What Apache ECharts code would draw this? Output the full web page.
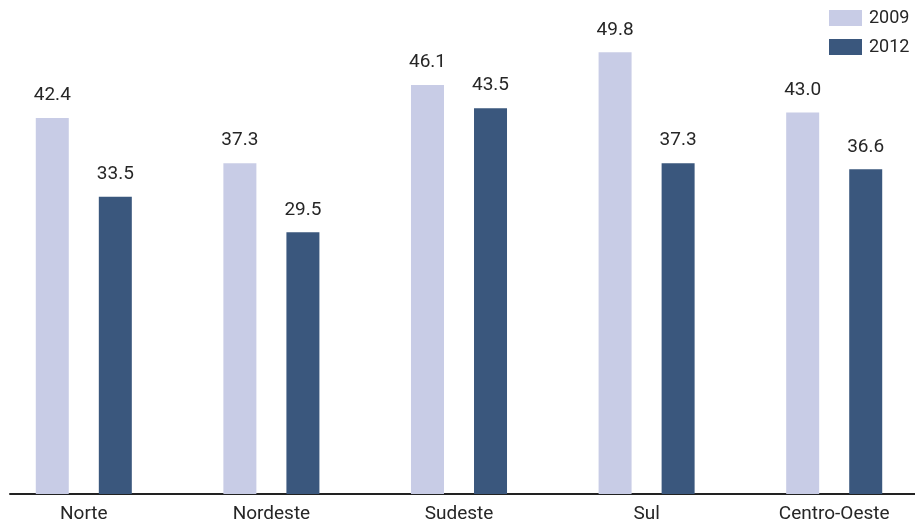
<!DOCTYPE html>
<html>
<head>
<meta charset="utf-8">
<script src="https://cdn.jsdelivr.net/npm/echarts@6/dist/echarts.min.js"></script>
<style>
  html, body { margin: 0; padding: 0; background: #ffffff; }
  #chart { width: 915px; height: 525px; }
</style>
</head>
<body>
<div id="chart"></div>
<script>
// Regions and yearly values
const regions = ['Norte', 'Nordeste', 'Sudeste', 'Sul', 'Centro-Oeste'];
const years = ['2009', '2012'];
const values2009 = [42.4, 37.3, 46.1, 49.8, 43.0];
const values2012 = [33.5, 29.5, 43.5, 37.3, 36.6];

const textColor = '#262626';
const fontFamily = 'Roboto, "Noto Sans", sans-serif';

const chart = echarts.init(document.getElementById('chart'), null, { renderer: 'canvas' });

const barLabel = {
  show: true,
  position: 'top',
  distance: 13,
  color: textColor,
  fontFamily: fontFamily,
  fontSize: 19,
  formatter: p => Number(p.value).toFixed(1)
};

chart.setOption({
  animation: false,
  backgroundColor: '#ffffff',
  textStyle: { fontFamily: fontFamily },
  legend: {
    orient: 'vertical',
    left: 829,
    top: 9,
    padding: 0,
    itemWidth: 33,
    itemHeight: 16,
    itemGap: 11,
    icon: 'rect',
    data: years,
    textStyle: { color: textColor, fontSize: 18, fontFamily: fontFamily, padding: [0, 0, 0, 2] }
  },
  grid: [
    { left: -10, right: -13, top: 50.5, bottom: 31, containLabel: false, outerBoundsMode: 'none' },
    // frame holding only the baseline
    { left: 10, right: 0, top: 50.5, bottom: 31, containLabel: false, outerBoundsMode: 'none' }
  ],
  xAxis: [
    {
      type: 'category',
      gridIndex: 0,
      data: regions,
      axisLine: { show: false },
      axisTick: { show: false },
      axisLabel: {
        color: textColor,
        fontSize: 19,
        fontFamily: fontFamily,
        margin: 11
      }
    },
    {
      type: 'category',
      gridIndex: 1,
      data: [''],
      axisLine: { show: true, lineStyle: { color: '#222222', width: 2 } },
      axisTick: { show: false },
      axisLabel: { show: false }
    }
  ],
  yAxis: [
    {
      type: 'value',
      gridIndex: 0,
      min: 0,
      max: 50,
      show: false,
      splitLine: { show: false }
    },
    {
      type: 'value',
      gridIndex: 1,
      min: 0,
      max: 50,
      show: false,
      splitLine: { show: false }
    }
  ],
  series: [
    {
      name: '2009',
      type: 'bar',
      data: values2009,
      barWidth: 33,
      barGap: '91%',
      itemStyle: { color: '#c8cce6' },
      label: barLabel
    },
    {
      name: '2012',
      type: 'bar',
      data: values2012,
      barWidth: 33,
      itemStyle: { color: '#3a577d' },
      label: barLabel
    }
  ]
});
</script>
</body>
</html>
